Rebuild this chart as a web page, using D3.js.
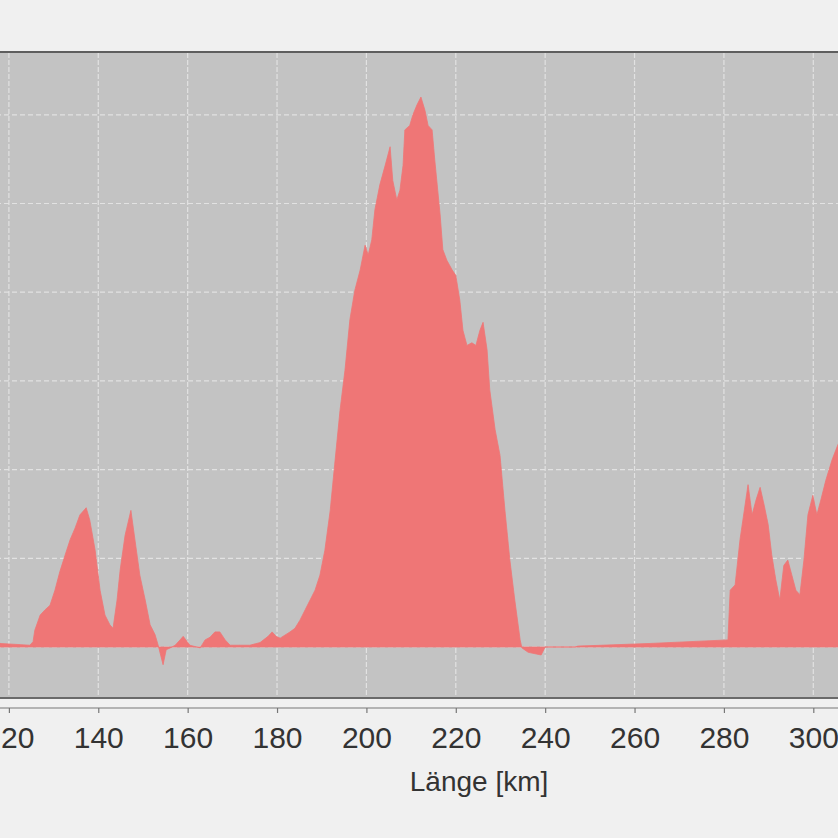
<!DOCTYPE html>
<html>
<head>
<meta charset="utf-8">
<script src="https://cdn.jsdelivr.net/npm/d3@7"></script>
<style>
  html, body { margin: 0; padding: 0; background: #f0f0f0; }
  svg { display: block; }
</style>
</head>
<body>
<svg id="chart" width="838" height="838"></svg>
<script>
// Distance along route [km]
const distanceKm = [
  118.0, 124.7, 125.4, 125.8, 127.0, 128.1, 129.2, 130.3, 131.4, 132.6, 133.7, 134.8, 135.9, 137.3,
  138.1, 139.3, 140.4, 141.5, 142.6, 143.3, 144.2, 144.9, 146.0, 147.3, 148.2, 149.3, 150.5, 151.6,
  152.7, 153.4, 154.5, 155.2, 156.1, 157.2, 158.3, 159.0, 159.9, 160.5, 162.8, 163.9, 165.0, 166.1,
  167.2, 168.4, 169.5, 171.7, 173.9, 176.2, 178.0, 178.9, 179.8, 180.7, 182.9, 184.0, 185.1, 186.3,
  187.4, 188.5, 189.6, 190.7, 191.9, 193.0, 194.1, 195.2, 196.3, 197.4, 198.6, 199.7, 200.4, 201.2,
  201.9, 203.0, 204.2, 205.3, 205.9, 206.8, 207.5, 208.2, 208.6, 209.7, 210.4, 211.3, 212.2, 213.1,
  213.8, 214.7, 215.3, 216.5, 217.1, 218.0, 219.2, 220.0, 220.9, 221.6, 222.5, 223.6, 224.5, 225.4,
  226.1, 227.0, 227.6, 228.8, 229.9, 231.0, 232.1, 233.2, 234.4, 234.8, 236.2, 239.1, 239.7, 240.0,
  246.7, 247.3, 263.5, 280.9, 281.4, 282.5, 283.6, 285.4, 286.3, 287.2, 288.1, 289.0, 289.9, 290.7,
  291.6, 292.5, 293.4, 294.3, 295.2, 296.1, 297.0, 297.9, 298.8, 299.9, 300.8, 301.7, 302.8, 304.2,
  305.5, 307.0
];
// Profile value (relative height)
const heightValue = [
  4, 2, 6, 19, 36, 42, 47, 64, 85, 104, 121, 134, 149, 157,
  143, 109, 64, 36, 25, 21, 53, 87, 126, 154, 121, 81, 53, 25,
  14, 2, -20, -3, -1, 2, 8, 12, 6, 2, -1, 8, 11, 17,
  17, 8, 2, 2, 2, 5, 12, 17, 12, 10, 17, 21, 30, 42,
  53, 64, 81, 109, 154, 211, 267, 312, 369, 402, 425, 453, 442, 459,
  493, 521, 543, 564, 526, 504, 515, 543, 583, 588, 600, 611, 620, 605,
  588, 583, 549, 487, 448, 436, 425, 419, 391, 357, 340, 343, 340, 357,
  366, 335, 290, 245, 216, 154, 98, 53, 8, -1, -6, -9, -3, 0,
  0, 1, 4, 8, 64, 70, 121, 183, 149, 166, 180, 160, 138, 104,
  76, 53, 92, 98, 81, 64, 59, 98, 149, 171, 149, 166, 188, 211,
  228, 245
];
const xTicks = [120, 140, 160, 180, 200, 220, 240, 260, 280, 300];
const yGrid = [0, 100, 200, 300, 400, 500, 600];
const xLabel = "Länge [km]";

const data = distanceKm.map((d, i) => ({ x: d, y: heightValue[i] }));

const svg = d3.select("#chart");
const W = 838, H = 838;
const plotTop = 53, plotBottom = 697, plotLeft = -20, plotRight = 860;

const x = d3.scaleLinear().domain([120, 300]).range([8.9, 813.3]);
const y = d3.scaleLinear().domain([0, 600]).range([647, 114.8]);

svg.append("rect").attr("width", W).attr("height", H).attr("fill", "#f0f0f0");

// plot background
svg.append("rect")
  .attr("x", plotLeft).attr("y", plotTop)
  .attr("width", plotRight - plotLeft).attr("height", plotBottom - plotTop)
  .attr("fill", "#c3c3c3");

// grid
const grid = svg.append("g");
grid.selectAll("line.v").data(xTicks).join("line")
  .attr("x1", d => x(d)).attr("x2", d => x(d))
  .attr("y1", plotTop).attr("y2", plotBottom)
  .attr("stroke", "#e2e2e2").attr("stroke-width", 1.2)
  .attr("stroke-dasharray", "5,2");
grid.selectAll("line.h").data(yGrid).join("line")
  .attr("x1", plotLeft).attr("x2", plotRight)
  .attr("y1", d => y(d)).attr("y2", d => y(d))
  .attr("stroke", "#e2e2e2").attr("stroke-width", 1.2)
  .attr("stroke-dasharray", "5,3");

// area
const area = d3.area()
  .x(d => x(d.x))
  .y0(y(0))
  .y1(d => y(d.y))
  .curve(d3.curveLinear);

svg.append("path")
  .datum(data)
  .attr("d", area)
  .attr("fill", "#ef7676")
  .attr("stroke", "#ef7676")
  .attr("stroke-width", 0.8);

// plot borders
svg.append("line").attr("x1", plotLeft).attr("x2", plotRight)
  .attr("y1", plotTop - 1).attr("y2", plotTop - 1)
  .attr("stroke", "#5e5e5e").attr("stroke-width", 2);
svg.append("line").attr("x1", plotLeft).attr("x2", plotRight)
  .attr("y1", plotBottom + 1).attr("y2", plotBottom + 1)
  .attr("stroke", "#6a6a6a").attr("stroke-width", 2);

// x axis
const xAxis = d3.axisBottom(x).tickValues(xTicks).tickSize(5).tickPadding(14)
  .tickFormat(d3.format("d"));
const gx = svg.append("g").attr("transform", "translate(0,708)").call(xAxis);
gx.select(".domain").remove();
gx.append("line").attr("x1", plotLeft).attr("x2", plotRight)
  .attr("y1", 0).attr("y2", 0).attr("stroke", "#777").attr("stroke-width", 1.2);
gx.selectAll(".tick line").attr("stroke", "#777").attr("stroke-width", 1.2);
gx.selectAll(".tick text")
  .attr("fill", "#333")
  .style("font-family", "'Liberation Sans', Arial, sans-serif")
  .style("font-size", "30px");

svg.append("text")
  .attr("x", 479).attr("y", 791)
  .attr("text-anchor", "middle")
  .attr("fill", "#333")
  .style("font-family", "'Liberation Sans', Arial, sans-serif")
  .style("font-size", "28px")
  .text(xLabel);
</script>
</body>
</html>
